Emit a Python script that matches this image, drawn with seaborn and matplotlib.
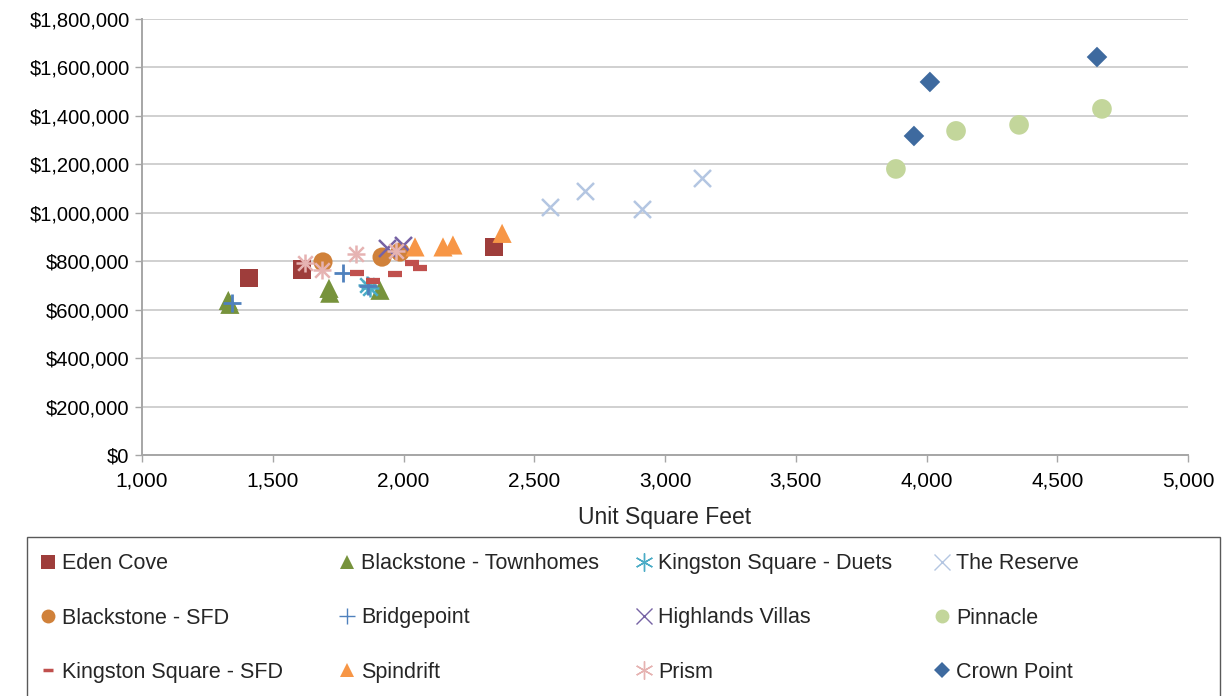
import matplotlib
matplotlib.use("Agg")
import matplotlib.pyplot as plt
import matplotlib.ticker as mticker
from matplotlib.lines import Line2D
from matplotlib.patches import Rectangle
import seaborn as sns
import pandas as pd

# ---- data: unit size (sq ft) vs. price ($) per community ----
communities = [
    "Eden Cove", "Blackstone - Townhomes", "Kingston Square - Duets", "The Reserve",
    "Blackstone - SFD", "Bridgepoint", "Highlands Villas", "Pinnacle",
    "Kingston Square - SFD", "Spindrift", "Prism", "Crown Point",
]

eden_sqft = [1409, 1612, 2346]
eden_price = [731000, 766000, 859000]

blackstone_th_sqft = [1330, 1336, 1715, 1718, 1910]
blackstone_th_price = [638000, 622000, 688000, 668000, 680000]

kingston_duets_sqft = [1862, 1872]
kingston_duets_price = [700000, 688000]

reserve_sqft = [2560, 2694, 2912, 3141]
reserve_price = [1024000, 1090000, 1016000, 1144000]

blackstone_sfd_sqft = [1692, 1918, 1987]
blackstone_sfd_price = [797000, 817000, 838000]

bridgepoint_sqft = [1344, 1769, 1866]
bridgepoint_price = [627000, 751000, 696000]

highlands_sqft = [1937, 1998]
highlands_price = [855000, 867000]

pinnacle_sqft = [3883, 4113, 4354, 4671]
pinnacle_price = [1181000, 1338000, 1363000, 1429000]

kingston_sfd_sqft = [1822, 1883, 1967, 2033, 2063]
kingston_sfd_price = [751000, 718000, 747000, 793000, 772000]

spindrift_sqft = [2044, 2151, 2189, 2377]
spindrift_price = [859000, 859000, 867000, 915000]

prism_sqft = [1623, 1688, 1818, 1971]
prism_price = [793000, 764000, 830000, 842000]

crown_sqft = [3952, 4013, 4652]
crown_price = [1317000, 1540000, 1643000]

series_sqft = [eden_sqft, blackstone_th_sqft, kingston_duets_sqft, reserve_sqft,
               blackstone_sfd_sqft, bridgepoint_sqft, highlands_sqft, pinnacle_sqft,
               kingston_sfd_sqft, spindrift_sqft, prism_sqft, crown_sqft]
series_price = [eden_price, blackstone_th_price, kingston_duets_price, reserve_price,
                blackstone_sfd_price, bridgepoint_price, highlands_price, pinnacle_price,
                kingston_sfd_price, spindrift_price, prism_price, crown_price]

x_ticks = [1000, 1500, 2000, 2500, 3000, 3500, 4000, 4500, 5000]
y_ticks = [0, 200000, 400000, 600000, 800000, 1000000, 1200000, 1400000, 1600000, 1800000]

# ---- styles: (marker, colour, size, line width, filled) ----
styles = {
    "Eden Cove": ("s", "#9E3D3B", 170, 0, True),
    "Blackstone - Townhomes": ("^", "#77933C", 190, 0, True),
    "Kingston Square - Duets": ("*", "#4BACC6", 0, 0, False),
    "The Reserve": ("x", "#B4C6E2", 150, 1.8, False),
    "Blackstone - SFD": ("o", "#D0813A", 190, 0, True),
    "Bridgepoint": ("+", "#4F81BD", 170, 2.0, False),
    "Highlands Villas": ("x", "#7662A4", 150, 1.8, False),
    "Pinnacle": ("o", "#C3D69B", 200, 0, True),
    "Kingston Square - SFD": ("_", "#C0504D", 90, 4.5, False),
    "Spindrift": ("^", "#F79646", 190, 0, True),
    "Prism": ("*", "#E6B3B2", 0, 0, False),
    "Crown Point": ("D", "#3E6A9F", 110, 0, True),
}

sns.set_style("white")
plt.rcParams["font.family"] = ["Liberation Sans", "DejaVu Sans"]

W, H = 1228, 696
fig = plt.figure(figsize=(W / 100, H / 100), dpi=100)
ax = fig.add_axes([142 / W, 1 - 455 / H, (1188 - 142) / W, (455 - 19) / H])

for name, xs, ys in zip(communities, series_sqft, series_price):
    df = pd.DataFrame({"sqft": xs, "price": ys})
    mk, col, s, lw, filled = styles[name]
    if mk == "*":
        # asterisk: a plus and a cross drawn on top of each other
        sns.scatterplot(data=df, x="sqft", y="price", marker="+", color=col,
                        s=170, linewidth=1.8, ax=ax, zorder=3)
        sns.scatterplot(data=df, x="sqft", y="price", marker="x", color=col,
                        s=110, linewidth=1.8, ax=ax, zorder=3)
    elif filled:
        sns.scatterplot(data=df, x="sqft", y="price", marker=mk, color=col, s=s,
                        linewidth=0, edgecolor="none", ax=ax, zorder=3)
    else:
        sns.scatterplot(data=df, x="sqft", y="price", marker=mk, color=col, s=s,
                        linewidth=lw, ax=ax, zorder=3)

ax.set_xlim(1000, 5000)
ax.set_ylim(0, 1800000)
ax.set_xticks(x_ticks)
ax.set_yticks(y_ticks)
ax.xaxis.set_major_formatter(mticker.FuncFormatter(lambda v, p: f"{int(v):,}"))
ax.yaxis.set_major_formatter(mticker.FuncFormatter(lambda v, p: f"${int(v):,}"))
ax.tick_params(axis="both", colors="#000000", length=5, width=1, direction="out")
ax.tick_params(axis="both", color="#A6A6A6")
ax.tick_params(axis="y", labelsize=14.5, pad=4)
ax.tick_params(axis="x", labelsize=15, pad=7)
ax.xaxis.set_ticks_position("bottom")
ax.yaxis.set_ticks_position("left")

ax.grid(axis="y", color="#D0D0D0", linewidth=1.4)
ax.grid(axis="x", visible=False)
ax.set_axisbelow(True)
for side in ["top", "right"]:
    ax.spines[side].set_visible(False)
for side in ["left", "bottom"]:
    ax.spines[side].set_color("#A6A6A6")
    ax.spines[side].set_linewidth(1.4)

ax.set_xlabel("Unit Square Feet", fontsize=16.5, labelpad=11)
ax.set_ylabel("")

# ---- legend: framed box spanning the figure, four columns filled row by row ----
def legend_handle(name):
    mk, col, s, lw, filled = styles[name]
    if mk == "*":
        return Line2D([], [], linestyle="none", marker=(6, 2, 0), color=col,
                      markersize=13, markeredgewidth=1.0)
    if filled:
        return Line2D([], [], linestyle="none", marker=mk, color=col,
                      markersize=10 if mk != "D" else 8, markeredgewidth=0)
    return Line2D([], [], linestyle="none", marker=mk, color=col,
                  markersize=12 if mk != "_" else 7,
                  markeredgewidth=1.0 if mk != "_" else 2.5)

fig.patches.append(Rectangle((27 / W, -0.05), (1220 - 27) / W, 0.05 + (H - 537) / H,
                             transform=fig.transFigure, fill=False,
                             edgecolor="#595959", linewidth=1.0))

col_centers = [48, 347, 644, 942]
for j, xc in enumerate(col_centers):
    names = communities[j::4]
    fig.legend([legend_handle(n) for n in names], names, loc="center left",
               bbox_to_anchor=((xc - 6) / W, 1 - 618 / H), fontsize=15.5,
               frameon=False, handlelength=0.6, handletextpad=0.33,
               labelspacing=1.55, borderpad=0, borderaxespad=0)

fig.savefig("out.png", dpi=100)
